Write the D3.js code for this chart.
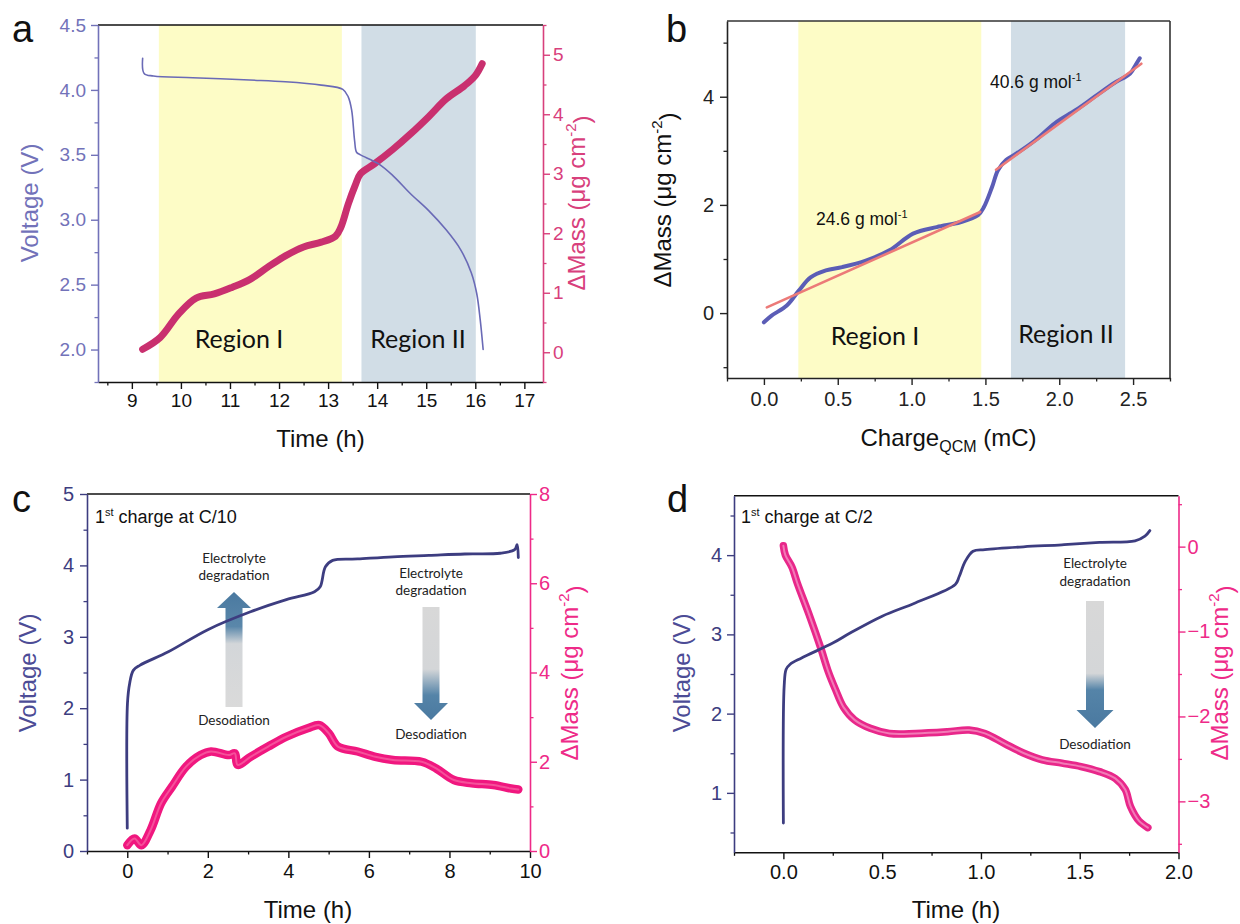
<!DOCTYPE html>
<html>
<head>
<meta charset="utf-8">
<script src="https://cdn.jsdelivr.net/npm/d3@7"></script>
<style>
body{margin:0;background:#fff}
svg{display:block}
</style>
</head>
<body>
<svg id="fig" width="1240" height="924"></svg>
<script>
// ---- panel a : voltage and mass vs time ----
var aVoltT = [9.22,9.25,9.44,10.24,11.4,12.13,12.86,13.3,13.41,13.48,13.54,13.58,13.66,14.03,14.32,14.68,15.05,15.41,15.7,15.92,16.03,16.1,16.16];
var aVolt  = [4.243,4.127,4.107,4.094,4.076,4.063,4.037,4.004,3.947,3.845,3.61,3.52,3.5,3.43,3.34,3.2,3.07,2.92,2.77,2.59,2.43,2.23,2.0];
var aMassT = [9.22,9.58,9.95,10.31,10.68,11.04,11.4,11.77,12.13,12.5,12.86,13.15,13.26,13.41,13.55,13.66,13.95,14.32,14.68,15.05,15.41,15.78,16.0,16.14];
var aMass  = [0.05,0.25,0.64,0.91,0.98,1.09,1.22,1.43,1.62,1.77,1.85,1.95,2.1,2.49,2.8,3.0,3.17,3.41,3.67,3.96,4.26,4.48,4.65,4.85];
var aRegions = [[9.55,13.28],[13.68,16.01]];
var aXTicks = [9,10,11,12,13,14,15,16,17];
var aYTicks = [2.0,2.5,3.0,3.5,4.0,4.5];
var aRTicks = [0,1,2,3,4,5];

// ---- panel b : mass vs charge ----
var bCharge = [0,0.05,0.155,0.235,0.316,0.42,0.53,0.69,0.85,1.01,1.17,1.33,1.45,1.49,1.545,1.585,1.64,1.71,1.84,1.97,2.11,2.24,2.37,2.48,2.52,2.545];
var bMass   = [-0.17,-0.05,0.14,0.41,0.66,0.79,0.85,0.97,1.16,1.47,1.59,1.68,1.81,1.96,2.33,2.64,2.83,2.95,3.2,3.51,3.75,4.0,4.25,4.43,4.6,4.71];
var bFitCharge = [[0.02,1.465],[1.572,2.556]];
var bFitMass   = [[0.105,1.87],[2.65,4.61]];
var bRegions = [[0.233,1.472],[1.673,2.446]];
var bXTicks = [0,0.5,1.0,1.5,2.0,2.5];
var bYTicks = [0,2,4];

// ---- panel c : 1st charge at C/10 ----
var cVoltT = [0,0.005,0.06,0.15,0.31,1.02,2.0,3.06,3.95,4.65,4.79,4.92,5.1,5.72,6.6,7.49,8.38,9.26,9.62,9.68,9.71];
var cVolt  = [0.32,2.07,2.35,2.53,2.6,2.79,3.1,3.35,3.52,3.63,3.7,3.98,4.07,4.09,4.12,4.14,4.16,4.17,4.22,4.29,4.11];
var cMassT = [0,0.18,0.35,0.58,0.84,1.11,1.46,1.82,2.08,2.53,2.67,2.74,3.06,3.5,3.95,4.48,4.77,5.0,5.23,5.72,6.16,6.6,7.31,7.67,8.11,8.55,9.09,9.53,9.71];
var cMass  = [0.13,0.28,0.13,0.47,1.07,1.44,1.89,2.15,2.23,2.15,2.19,1.93,2.11,2.34,2.56,2.75,2.82,2.64,2.34,2.23,2.11,2.04,2.0,1.85,1.59,1.52,1.48,1.4,1.38];
var cXTicks = [0,2,4,6,8,10];
var cYTicks = [0,1,2,3,4,5];
var cRTicks = [0,2,4,6,8];

// ---- panel d : 1st charge at C/2 ----
var dVoltT = [0,0.004,0.014,0.033,0.09,0.25,0.34,0.5,0.67,0.87,0.89,0.92,0.96,1.02,1.215,1.41,1.6,1.78,1.83,1.855];
var dVolt  = [0.62,2.35,2.56,2.62,2.7,2.89,3.02,3.23,3.4,3.63,3.73,3.92,4.05,4.07,4.105,4.13,4.16,4.18,4.24,4.31];
var dMassT = [0,0.01,0.043,0.072,0.13,0.19,0.227,0.265,0.304,0.36,0.44,0.537,0.67,0.83,0.94,1.02,1.12,1.215,1.31,1.41,1.506,1.6,1.68,1.73,1.757,1.8,1.845];
var dMass  = [0.01,-0.1,-0.24,-0.44,-0.8,-1.2,-1.47,-1.69,-1.89,-2.04,-2.14,-2.2,-2.2,-2.18,-2.16,-2.2,-2.32,-2.43,-2.51,-2.55,-2.59,-2.65,-2.73,-2.86,-3.06,-3.23,-3.31];
var dXTicks = [0,0.5,1.0,1.5,2.0];
var dYTicks = [1,2,3,4];
var dRTicks = [-3,-2,-1,0];

var svg = d3.select("#fig");
var ARIAL = "'Liberation Sans', Arial, sans-serif";
var CALI = "Lato, 'Open Sans', sans-serif";

var defs = svg.append("defs");
function grad(id, y1, y2, stops)
{
	var g = defs.append("linearGradient").attr("id", id).attr("gradientUnits", "userSpaceOnUse")
		.attr("x1", 0).attr("x2", 0).attr("y1", y1).attr("y2", y2);
	stops.forEach(function(s){ g.append("stop").attr("offset", s[0]).attr("stop-color", s[1]); });
}

function pts(X, Y) { return X.map(function(v, i){ return [v, Y[i]]; }); }

function curve(x, y, X, Y, color, w)
{
	var line = d3.line().x(function(d){ return x(d[0]); }).y(function(d){ return y(d[1]); })
		.curve(d3.curveCatmullRom.alpha(0.5));
	return svg.append("path").attr("d", line(pts(X, Y))).attr("fill", "none")
		.attr("stroke", color).attr("stroke-width", w).attr("stroke-linejoin", "round").attr("stroke-linecap", "round");
}

function axis(gen, tr, major, minor, fmt, color, fs, pad)
{
	var g = svg.append("g").attr("transform", tr);
	g.append("g").call(gen.tickValues(minor).tickSize(3.5).tickSizeOuter(0).tickFormat(""))
		.call(function(s){ s.select(".domain").remove(); s.selectAll("line").attr("stroke", color).attr("stroke-width", 1.3); });
	var m = g.append("g").call(gen.tickValues(major).tickSize(7).tickSizeOuter(0).tickPadding(pad).tickFormat(fmt));
	m.attr("font-family", ARIAL).attr("font-size", fs);
	m.select(".domain").attr("stroke", color).attr("stroke-width", 1.6);
	m.selectAll(".tick line").attr("stroke", color).attr("stroke-width", 1.4);
	m.selectAll(".tick text").attr("fill", color);
}

function hline(x1, x2, y, color)
{
	svg.append("line").attr("x1", x1).attr("x2", x2).attr("y1", y).attr("y2", y).attr("stroke", color).attr("stroke-width", 1.6);
}

function ytitle(x, y, color, fs, parts)
{
	var t = svg.append("text").attr("transform", "translate(" + x + "," + y + ") rotate(-90)")
		.attr("text-anchor", "middle").attr("dy", "0.35em").attr("font-family", ARIAL).attr("font-size", fs).attr("fill", color);
	parts.forEach(function(p){ t.append("tspan").attr("dy", p[1]).attr("font-size", p[2] || fs).text(p[0]); });
	return t;
}

function label(x, y, txt, fs, anchor, font, color)
{
	return svg.append("text").attr("x", x).attr("y", y).attr("text-anchor", anchor || "start")
		.attr("font-family", font || ARIAL).attr("font-size", fs).attr("fill", color || "#111").text(txt);
}

function minorBetween(ticks, step, lo, hi)
{
	return d3.range(lo, hi + 1e-9, step).filter(function(v){ return ticks.every(function(t){ return Math.abs(t - v) > 1e-6; }); });
}

var massParts = [["\u0394Mass (\u03bcg cm", 0], ["-2", "-0.6em", 15], [")", "0.6em"]];

// =============== panel a ===============
var ax = d3.scaleLinear().domain([8.31, 17.38]).range([98, 543]);
var ayL = d3.scaleLinear().domain([1.75, 4.5]).range([382, 25]);
var ayR = d3.scaleLinear().domain([-0.5, 5.5]).range([382, 25]);
var regCol = ["#fdfcc6", "#d1dde6"];
aRegions.forEach(function(r, i){
	svg.append("rect").attr("x", ax(r[0])).attr("y", 25).attr("width", ax(r[1]) - ax(r[0])).attr("height", 357).attr("fill", regCol[i]);
});
curve(ax, ayR, aMassT, aMass, "#c9306f", 7);
curve(ax, ayL, aVoltT, aVolt, "#6a6ab6", 1.6);
var aLeft = "#7272b9", aRight = "#d8407c";
hline(98, 543, 25, "#111");
axis(d3.axisBottom(ax), "translate(0,382)", aXTicks, minorBetween(aXTicks, 0.5, 8.5, 17), d3.format("d"), "#111", 19, 5);
axis(d3.axisLeft(ayL), "translate(98,0)", aYTicks, minorBetween(aYTicks, 0.25, 1.75, 4.5), d3.format(".1f"), aLeft, 19, 5);
axis(d3.axisRight(ayR), "translate(543,0)", aRTicks, minorBetween(aRTicks, 0.5, -0.5, 5.5), d3.format("d"), aRight, 19, 3);
ytitle(38, 203, aLeft, 24, [["Voltage (V)", 0]]);
ytitle(585, 203, aRight, 24, massParts);
label(320.5, 447, "Time (h)", 24, "middle");
label(239, 348, "Region I", 25, "middle", CALI);
label(418, 348, "Region II", 25, "middle", CALI);
label(12, 42, "a", 38, "start");

// =============== panel b ===============
var bx = d3.scaleLinear().domain([-0.25, 2.75]).range([727, 1170]);
var by = d3.scaleLinear().domain([-1.2, 5.4]).range([378, 21]);
bRegions.forEach(function(r, i){
	svg.append("rect").attr("x", bx(r[0])).attr("y", 21).attr("width", bx(r[1]) - bx(r[0])).attr("height", 357).attr("fill", regCol[i]);
});
curve(bx, by, bCharge, bMass, "#5b5db6", 4);
bFitCharge.forEach(function(c, i){ curve(bx, by, c, bFitMass[i], "#ec7a78", 2.6); });
hline(727, 1170, 21, "#333");
svg.append("line").attr("x1", 1170).attr("x2", 1170).attr("y1", 21).attr("y2", 378).attr("stroke", "#333").attr("stroke-width", 1.6);
axis(d3.axisBottom(bx), "translate(0,378)", bXTicks, minorBetween(bXTicks, 0.25, -0.25, 2.75), d3.format(".1f"), "#222", 20, 7);
axis(d3.axisLeft(by), "translate(727,0)", bYTicks, minorBetween(bYTicks, 1, -1, 5), d3.format("d"), "#222", 20, 6);
ytitle(671, 200, "#111", 24, massParts);
var bt = label(948.5, 446, "Charge", 24, "middle");
bt.append("tspan").attr("dy", 6).attr("font-size", 16).text("QCM");
bt.append("tspan").attr("dy", -6).text(" (mC)");
var m1 = label(816, 225, "24.6 g mol", 17.5, "start");
m1.append("tspan").attr("dy", -7).attr("font-size", 11).text("-1");
var m2 = label(990, 88, "40.6 g mol", 17.5, "start");
m2.append("tspan").attr("dy", -7).attr("font-size", 11).text("-1");
label(875, 345, "Region I", 25, "middle", CALI);
label(1066, 343, "Region II", 25, "middle", CALI);
label(666, 42, "b", 38, "start");

// =============== panel c ===============
var cx = d3.scaleLinear().domain([-1, 10]).range([87, 530]);
var cyL = d3.scaleLinear().domain([0, 5]).range([851, 494]);
var cyR = d3.scaleLinear().domain([0, 8]).range([851, 494]);
var navy = "#3d3d80", navyTxt = "#4c4c96", pink = "#ee2a88";

grad("upC", 592, 707, [[0, "#4a79a0"], [0.3, "#5a87aa"], [0.45, "#d3d6d9"], [1, "#dadada"]]);
grad("dnC", 607, 720, [[0, "#d8d8d8"], [0.55, "#d4d6d8"], [0.78, "#5584a8"], [1, "#4a79a0"]]);
grad("dnD", 601, 728, [[0, "#d8d8d8"], [0.57, "#d4d6d8"], [0.7, "#5584a8"], [1, "#4a79a0"]]);

function arrow(cxp, yTail, yHeadBase, yTip, bar, head, fill)
{
	var p = [[cxp - bar/2, yTail], [cxp - bar/2, yHeadBase], [cxp - head/2, yHeadBase], [cxp, yTip],
		[cxp + head/2, yHeadBase], [cxp + bar/2, yHeadBase], [cxp + bar/2, yTail]];
	svg.append("path").attr("d", "M" + p.join("L") + "Z").attr("fill", fill);
}
arrow(234, 707, 608, 592, 17, 34, "url(#upC)");
arrow(431, 607, 703, 720, 17, 34, "url(#dnC)");

curve(cx, cyR, cMassT, cMass, "#f0177f", 8.5);
curve(cx, cyR, cMassT, cMass, "#f5509a", 2);
curve(cx, cyL, cVoltT, cVolt, navy, 2.8);
hline(87, 530, 494, "#111");
axis(d3.axisBottom(cx), "translate(0,851)", cXTicks, minorBetween(cXTicks, 1, -1, 9), d3.format("d"), "#111", 20, 6);
axis(d3.axisLeft(cyL), "translate(87,0)", cYTicks, minorBetween(cYTicks, 0.5, 0, 5), d3.format("d"), navy, 20, 6);
axis(d3.axisRight(cyR), "translate(530,0)", cRTicks, minorBetween(cRTicks, 1, 0, 8), d3.format("d"), pink, 20, 2);
ytitle(36, 673, navyTxt, 24, [["Voltage (V)", 0]]);
ytitle(578, 673, pink, 24, massParts);
label(308, 918, "Time (h)", 24, "middle");
var c1 = label(95, 523, "1", 18, "start");
c1.append("tspan").attr("dy", -7).attr("font-size", 11).text("st");
c1.append("tspan").attr("dy", 7).text(" charge at C/10");
label(234, 563, "Electrolyte", 13.5, "middle", CALI, "#222");
label(234, 580, "degradation", 13.5, "middle", CALI, "#222");
label(234, 725, "Desodiation", 13.5, "middle", CALI, "#222");
label(431, 578, "Electrolyte", 13.5, "middle", CALI, "#222");
label(431, 595, "degradation", 13.5, "middle", CALI, "#222");
label(431, 739, "Desodiation", 13.5, "middle", CALI, "#222");
label(12, 512, "c", 38, "start");

// =============== panel d ===============
var dx = d3.scaleLinear().domain([-0.25, 2.0]).range([734, 1178.5]);
var dyL = d3.scaleLinear().domain([0.25, 4.75]).range([852.3, 495.7]);
var dyR = d3.scaleLinear().domain([-3.6, 0.6]).range([852.3, 495.7]);
arrow(1095, 601, 710, 728, 18, 37, "url(#dnD)");
curve(dx, dyR, dMassT, dMass, "#e8278a", 7.5);
curve(dx, dyR, dMassT, dMass, "#f27ab6", 2);
curve(dx, dyL, dVoltT, dVolt, navy, 2.8);
hline(734, 1178.5, 495.7, "#111");
axis(d3.axisBottom(dx), "translate(0,852.3)", dXTicks, minorBetween(dXTicks, 0.25, -0.25, 2.0), d3.format(".1f"), "#111", 20, 6);
axis(d3.axisLeft(dyL), "translate(734,0)", dYTicks, minorBetween(dYTicks, 0.5, 0.5, 4.5), d3.format("d"), navy, 20, 5);
axis(d3.axisRight(dyR), "translate(1178.5,0)", dRTicks, minorBetween(dRTicks, 0.5, -3.5, 0.5), d3.format("d"), pink, 20, 2);
ytitle(690, 673, navyTxt, 24, [["Voltage (V)", 0]]);
ytitle(1228, 673, pink, 24, massParts);
label(956, 918, "Time (h)", 24, "middle");
var d1 = label(741, 523, "1", 18, "start");
d1.append("tspan").attr("dy", -7).attr("font-size", 11).text("st");
d1.append("tspan").attr("dy", 7).text(" charge at C/2");
label(1095, 568, "Electrolyte", 13.5, "middle", CALI, "#222");
label(1095, 586, "degradation", 13.5, "middle", CALI, "#222");
label(1095, 749, "Desodiation", 13.5, "middle", CALI, "#222");
label(667, 512, "d", 38, "start");
</script>
</body>
</html>
